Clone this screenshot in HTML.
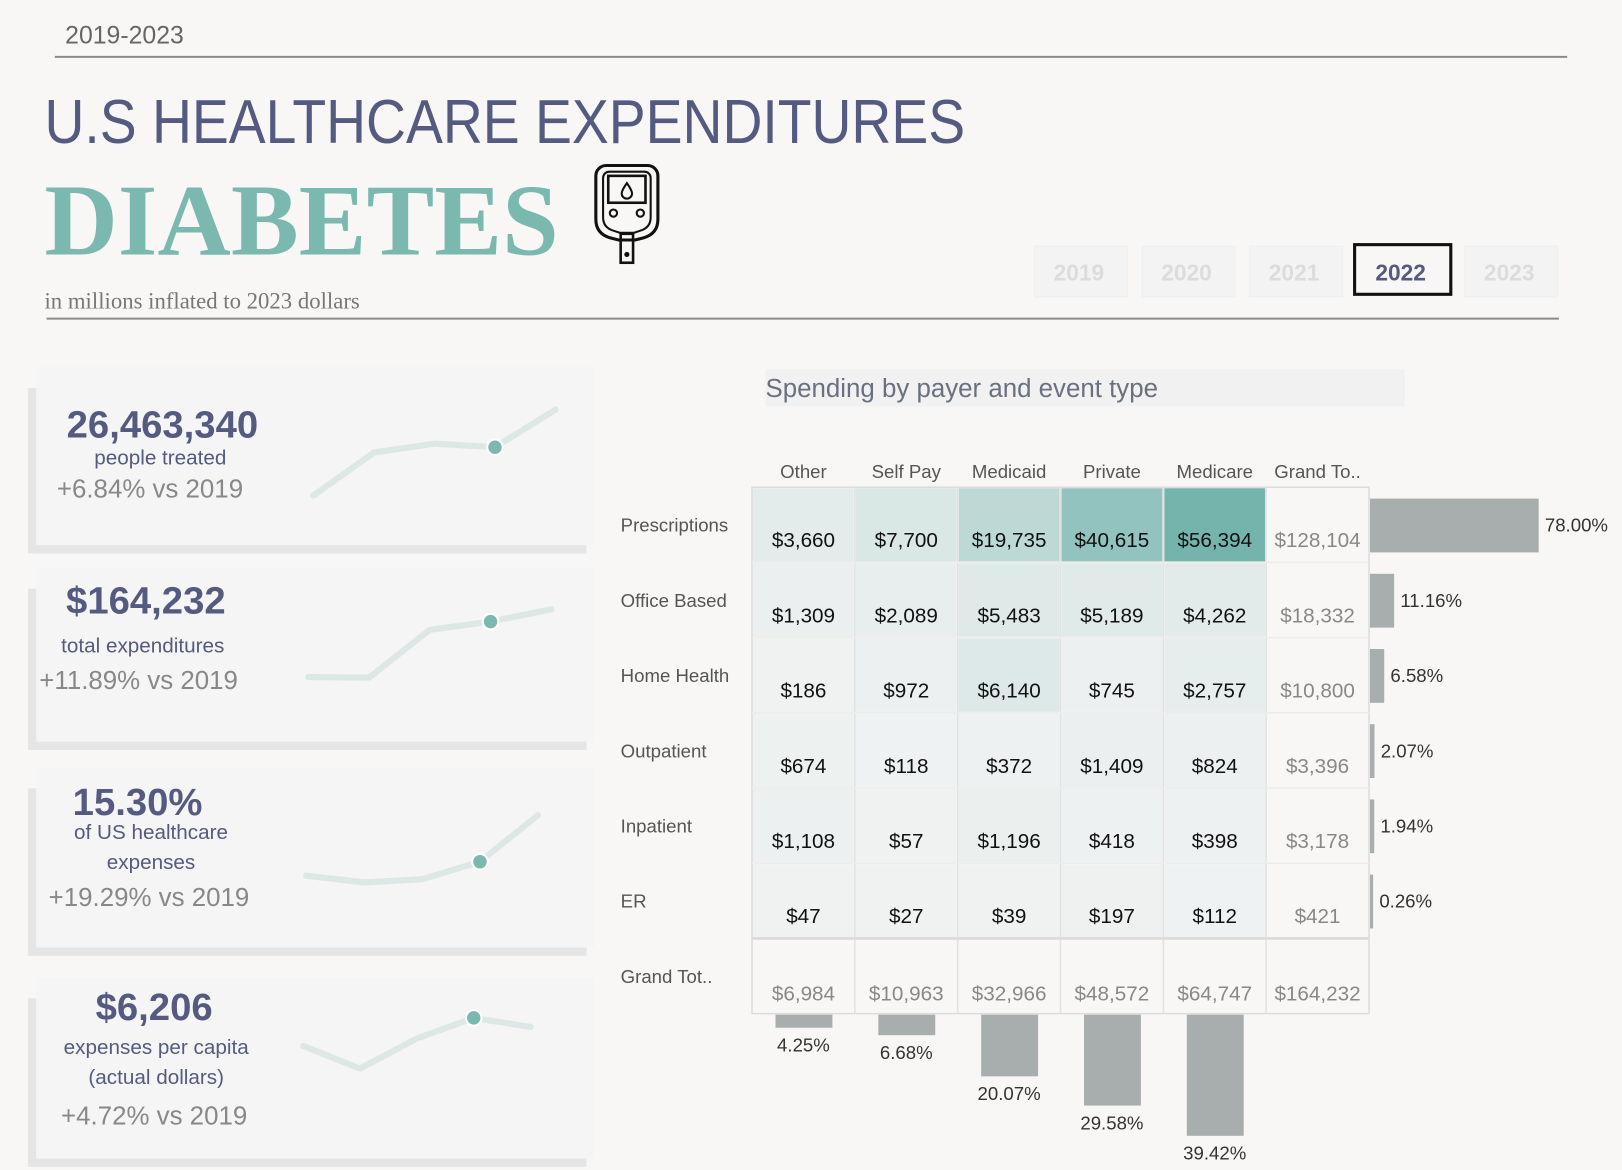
<!DOCTYPE html>
<html><head><meta charset="utf-8">
<style>
html,body{margin:0;padding:0;background:#f8f7f5;overflow:hidden}
#wrap{width:1568px;height:1131px;transform:scale(1.03444);transform-origin:0 0;position:relative}
svg text{font-family:"Liberation Sans","DejaVu Sans",sans-serif}
</style></head>
<body>
<div id="wrap">
<svg id="svg" width="1568" height="1131" viewBox="0 0 1568 1131" xmlns="http://www.w3.org/2000/svg">
  <rect width="1568" height="1131" fill="#f8f7f5"/>
  <text x="63" y="42" font-size="24" fill="#666">2019-2023</text>
  <line x1="53" y1="55" x2="1515" y2="55" stroke="#8a8a8a" stroke-width="2"/>
  <text x="43" y="138" font-size="60" fill="#555b80" textLength="890" lengthAdjust="spacingAndGlyphs">U.S HEALTHCARE EXPENDITURES</text>
  <text x="43" y="246" font-size="98" font-weight="bold" fill="#7ab8b0" style="font-family:'Liberation Serif',serif" textLength="497">DIABETES</text>
  <g fill="none" stroke="#111" stroke-width="3">
    <path d="M586 160 h40 a10 10 0 0 1 10 10 v42 q0 14 -14 18 l-8 2 h-16 l-8 -2 q-14 -4 -14 -18 v-42 a10 10 0 0 1 10 -10z"/>
    <path d="M589 166 h34 a6 6 0 0 1 6 6 v38 q0 10 -10 13 l-6 2 h-14 l-6 -2 q-10 -3 -10 -13 v-38 a6 6 0 0 1 6 -6z" stroke-width="2"/>
    <rect x="588" y="170" width="36" height="26" stroke-width="2.5"/>
    <path d="M606 177 q-5 7 -5 10 a5 5 0 0 0 10 0 q0 -3 -5 -10z" stroke-width="2"/>
    <circle cx="593" cy="206" r="3.5" stroke-width="2"/>
    <circle cx="619" cy="206" r="3.5" stroke-width="2"/>
    <rect x="600" y="226" width="12" height="28" stroke-width="2.5"/>
    <circle cx="606" cy="246" r="1" fill="#111"/>
  </g>
  <text x="43" y="298" font-size="22" fill="#777" style="font-family:'Liberation Serif',serif">in millions inflated to 2023 dollars</text>
  <line x1="45" y1="308" x2="1507" y2="308" stroke="#8a8a8a" stroke-width="2"/>
  <g id="years"></g>
  <g id="cards"></g>
  <rect x="740" y="357" width="618" height="36" fill="#f1f1f2"/>
  <text x="740" y="384" font-size="25" fill="#6a7080">Spending by payer and event type</text>
  <g id="heat"></g>
</svg>
</div>
<script>
const NS='http://www.w3.org/2000/svg';
function mk(tag,attrs,parent,txt){const e=document.createElementNS(NS,tag);for(const k in attrs)e.setAttribute(k,attrs[k]);if(txt!==undefined)e.textContent=txt;parent.appendChild(e);return e;}

// ---- year buttons ----
const years=['2019','2020','2021','2022','2023'];
const selectedYear='2022';
const yearX=[1000,1104,1208,1308,1416];
const yg=document.getElementById('years');
years.forEach((y,i)=>{
  const sel=y===selectedYear;
  const g=mk('g',{},yg);
  
  
  mk('rect',{x:yearX[i]+(sel?1.5:0),y:sel?236.5:238,width:sel?93:90,height:sel?48:49,fill:sel?'#f8f7f5':'#f3f3f3',stroke:sel?'#111':'#efefef','stroke-width':sel?3:1},g);
  mk('text',{x:yearX[i]+(sel?46:43),y:271,'font-size':22,'font-weight':'bold','text-anchor':'middle',fill:sel?'#555b80':'#dcdcdc'},g,y);
});

// ---- KPI cards ----
const cardTitles=['26,463,340','$164,232','15.30%','$6,206'];
const cardSubs=[['people treated'],['total expenditures'],['of US healthcare','expenses'],['expenses per capita','(actual dollars)']];
const cardDeltas=['+6.84% vs 2019','+11.89% vs 2019','+19.29% vs 2019','+4.72% vs 2019'];
const sparkPeople=[24.6,25.8,26.05,25.95,27.0];
const sparkSpend=[146.8,146.7,156.0,157.6,160.0];
const sparkShare=[12.83,12.70,12.76,13.10,14.0];
const sparkCapita=[5926,5700,6000,6206,6115];
const sparkSeries=[sparkPeople,sparkSpend,sparkShare,sparkCapita];
const cardTop=[355,549,742,945],cardBot=[527,717,916,1120];
const sparkX0=[303,298,296,293],sparkX1=[537,533,520,513];
const sparkYTop=[396,589,788,984],sparkYBot=[479,655,853,1033];
const cg=document.getElementById('cards');
cardTitles.forEach((t,i)=>{
  const g=mk('g',{},cg);
  
  
  mk('rect',{x:27,y:cardTop[i]+20,width:540,height:cardBot[i]-cardTop[i]-12,fill:'#e5e5e5'},g);
  mk('rect',{x:35,y:cardTop[i],width:540,height:cardBot[i]-cardTop[i],fill:'#f5f5f5'},g);
  const layout=[
    {tx:157,ty:423,ts:37,sy:[449],dy:481},
    {tx:141,ty:593,ts:37,sy:[631],dy:666},
    {tx:133,ty:788,ts:37,sy:[811,840],dy:876},
    {tx:149,ty:986,ts:37,sy:[1019,1048],dy:1087}][i];
  const tt=mk('text',{x:layout.tx,y:layout.ty,'font-size':layout.ts,'font-weight':'bold',fill:'#555b80','text-anchor':'middle'},g,t);
  
  
  cardSubs[i].forEach((s,j)=>{
    const st=mk('text',{x:i===1?138:(i===2?146:(i===3?151:155)),y:layout.sy[j],'font-size':20,fill:'#555b80','text-anchor':'middle'},g,s);
    
    
  });
  const dt=mk('text',{x:i===1?134:(i===2?144:(i===3?149:145)),y:layout.dy,'font-size':25,fill:'#888','text-anchor':'middle'},g,cardDeltas[i]);
  
  
  const vals=sparkSeries[i];
  const mn=Math.min(...vals),mx=Math.max(...vals);
  const xs=k=>sparkX0[i]+(sparkX1[i]-sparkX0[i])*k/(vals.length-1);
  const ys=v=>sparkYBot[i]-(v-mn)/(mx-mn)*(sparkYBot[i]-sparkYTop[i]);
  const pts=vals.map((v,k)=>xs(k).toFixed(1)+','+ys(v).toFixed(1)).join(' ');
  const pl=mk('polyline',{points:pts,fill:'none',stroke:'#dde8e6','stroke-width':6,'stroke-linecap':'round','stroke-linejoin':'round'},g);
  
  
  const di=years.indexOf(selectedYear);
  const c=mk('circle',{cx:xs(di),cy:ys(vals[di]),r:7.5,fill:'#7ab8b0',stroke:'#fff','stroke-width':2},g);
  
  
});

// ---- heatmap ----
const payers=['Other','Self Pay','Medicaid','Private','Medicare'];
const events=['Prescriptions','Office Based','Home Health','Outpatient','Inpatient','ER'];
const vPrescriptions=[3660,7700,19735,40615,56394];
const vOffice=[1309,2089,5483,5189,4262];
const vHome=[186,972,6140,745,2757];
const vOutpatient=[674,118,372,1409,824];
const vInpatient=[1108,57,1196,418,398];
const vER=[47,27,39,197,112];
const matrix=[vPrescriptions,vOffice,vHome,vOutpatient,vInpatient,vER];
const rowTotals=[128104,18332,10800,3396,3178,421];
const colTotals=[6984,10963,32966,48572,64747];
const grandTotal=164232;

const hg=document.getElementById('heat');
const X0=727,CW=99.4,Y0=471,RH=72.7;
const colX=j=>X0+j*CW, rowY=i=>Y0+i*RH;
const fmt=v=>'$'+v.toLocaleString('en-US');
const vmax=Math.max(...matrix.flat());
function col(v){const t=Math.pow(v/vmax,0.85);const a=[240,242,242],b=[116,180,173];
  return 'rgb('+a.map((c,k)=>Math.round(c+(b[k]-c)*t)).join(',')+')';}

payers.concat(['Grand To..']).forEach((p,j)=>{
  const t=mk('text',{x:colX(j)+CW/2,y:462,'font-size':18,fill:'#555','text-anchor':'middle'},hg,p);
  
  
});
events.concat(['Grand Tot..']).forEach((e,i)=>{
  const t=mk('text',{x:600,y:rowY(i)+43,'font-size':18,fill:'#555'},hg,e);
  
  
});
mk('rect',{x:X0,y:Y0,width:CW*6,height:RH*7,fill:'#f8f7f5',stroke:'#dcdcdc','stroke-width':1.5},hg);
matrix.forEach((row,i)=>{
  row.forEach((v,j)=>{
    const r=mk('rect',{x:colX(j)+1,y:rowY(i)+1,width:CW-2,height:RH-2,fill:col(v)},hg);
    
    
    const t=mk('text',{x:colX(j)+CW/2,y:rowY(i)+58,'font-size':20,fill:'#111','text-anchor':'middle'},hg,fmt(v));
    
    
  });
  const gt=mk('text',{x:colX(5)+CW/2,y:rowY(i)+58,'font-size':20,fill:'#888','text-anchor':'middle'},hg,fmt(rowTotals[i]));
  
  
  const pct=rowTotals[i]/grandTotal*100;
  const bw=pct*2.09;
  const b=mk('rect',{x:X0+CW*6+1,y:rowY(i)+11,width:Math.max(bw,3),height:52,fill:'#a8adad'},hg);
  
  
  const bl=mk('text',{x:X0+CW*6+Math.max(bw,3)+7,y:rowY(i)+43,'font-size':18,fill:'#333'},hg,pct.toFixed(2)+'%');
  
  
});
for(let j=1;j<6;j++)mk('line',{x1:colX(j),y1:Y0,x2:colX(j),y2:Y0+RH*7,stroke:'#e2e2e2','stroke-width':1.5},hg);
for(let i=1;i<7;i++)mk('line',{x1:X0,y1:rowY(i),x2:X0+CW*6,y2:rowY(i),stroke:i===6?'#dadada':'#ececec','stroke-width':i===6?2.5:1.5},hg);
colTotals.concat([grandTotal]).forEach((v,j)=>{
  const t=mk('text',{x:colX(j)+CW/2,y:rowY(6)+60,'font-size':20,fill:'#888','text-anchor':'middle'},hg,fmt(v));
  
  
});
colTotals.forEach((v,j)=>{
  const pct=v/grandTotal*100;
  const bh=pct*2.97;
  const yb=Y0+RH*7+1;
  const b=mk('rect',{x:colX(j)+CW/2-27,y:yb,width:55,height:bh,fill:'#a8adad'},hg);
  
  
  const t=mk('text',{x:colX(j)+CW/2,y:yb+bh+23,'font-size':18,fill:'#333','text-anchor':'middle'},hg,pct.toFixed(2)+'%');
  
  
});
</script>
</body></html>
